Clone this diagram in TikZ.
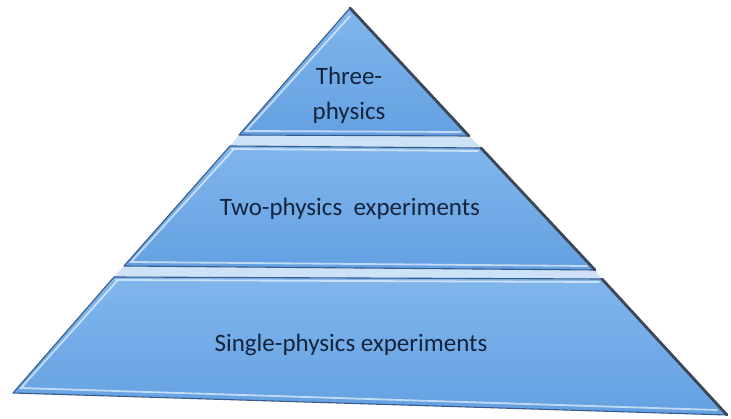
\documentclass[tikz,border=0pt]{standalone}
\usepackage{fontspec}
\setmainfont{Carlito}
\usetikzlibrary{calc}
\definecolor{tiertop}{RGB}{128,182,236}
\definecolor{tierbot}{RGB}{100,160,226}
\definecolor{edgeblue}{RGB}{55,92,140}
\definecolor{gapblue}{RGB}{205,226,246}
\definecolor{shadowgray}{RGB}{60,70,85}
\definecolor{textblue}{RGB}{20,36,60}
\begin{document}
\begin{tikzpicture}[x=1pt,y=-1pt,
  tier/.style={top color=tiertop, bottom color=tierbot},
  gap/.style={fill=gapblue},
  outline/.style={draw=edgeblue, line width=1.1pt, line join=round},
  hilite/.style={draw=white, opacity=0.6, line width=1.8pt, line cap=round},
  shadowedge/.style={draw=shadowgray, line width=2.8pt, line cap=round},
  lbl/.style={font=\fontsize{25}{35}\selectfont, text=textblue, align=center}]
\useasboundingbox (0,0) rectangle (731,419);
% corner points
\coordinate (A) at (350,8);
\coordinate (t1l) at (239,135);
\coordinate (t1r) at (469,136);
\coordinate (t2a) at (230,146);
\coordinate (t2b) at (481,148);
\coordinate (t2c) at (595,270);
\coordinate (t2d) at (124,266);
\coordinate (t3a) at (114,277);
\coordinate (t3b) at (602,279);
\coordinate (t3c) at (727,415);
\coordinate (t3d) at (13,393);
% light strips between tiers
\fill[gap] (t1l) -- (t1r) -- (t2b) -- (t2a) -- cycle;
\fill[gap] (t2d) -- (t2c) -- (t3b) -- (t3a) -- cycle;
% tier 1
\shade[tier] (A) -- (t1r) -- (t1l) -- cycle;
\draw[outline] (A) -- (t1r) -- (t1l) -- cycle;
\draw[hilite] ($(A)+(0,8)$) -- ($(t1l)+(7,-4)$) -- ($(t1r)+(-8,-4)$);
\draw[shadowedge] (A) -- (t1r);
% tier 2
\shade[tier] (t2a) -- (t2b) -- (t2c) -- (t2d) -- cycle;
\draw[outline] (t2a) -- (t2b) -- (t2c) -- (t2d) -- cycle;
\draw[hilite] ($(t2a)+(2,3)$) -- ($(t2b)+(-3,3)$);
\draw[hilite] ($(t2a)+(3,4)$) -- ($(t2d)+(7,-4)$) -- ($(t2c)+(-8,-4)$);
\draw[shadowedge] (t2b) -- (t2c);
% tier 3
\shade[tier] (t3a) -- (t3b) -- (t3c) -- (t3d) -- cycle;
\draw[outline] (t3a) -- (t3b) -- (t3c) -- (t3d) -- cycle;
\draw[hilite] ($(t3a)+(2,3)$) -- ($(t3b)+(-3,3)$);
\draw[hilite] ($(t3a)+(3,4)$) -- ($(t3d)+(8,-5)$) -- ($(t3c)+(-10,-5)$);
\draw[shadowedge] (t3b) -- (t3c);
% labels
\node[lbl] (l1) at (349,95) {Three-\\physics};
\node[lbl] (l2) at (350,209) {Two-physics\ \ experiments};
\node[lbl] (l3) at (351,345) {Single-physics experiments};
\end{tikzpicture}
\end{document}
